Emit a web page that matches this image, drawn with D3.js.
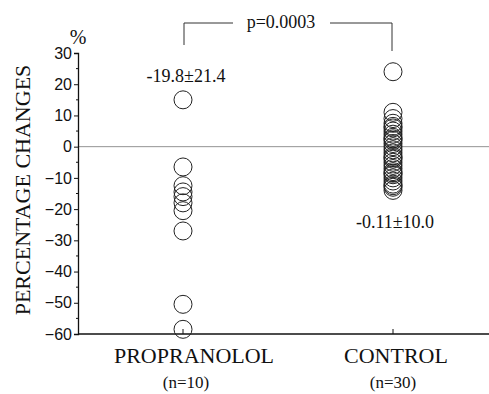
<!DOCTYPE html>
<html>
<head>
<meta charset="utf-8">
<script src="https://cdn.jsdelivr.net/npm/d3@7"></script>
<style>
  body { margin: 0; background: #fff; }
  svg { display: block; }
</style>
</head>
<body>
<div id="chart"></div>
<script>
// groups and their values (% change)
const groups = ['PROPRANOLOL', 'CONTROL'];
const groupN = ['(n=10)', '(n=30)'];
const groupStats = ['-19.8\u00b121.4', '-0.11\u00b110.0'];
const propranolol = [15, -6.5, -12.5, -14.5, -16, -18, -20.5, -27, -50.5, -58.5];
const control = [24, 11, 9, 7.5, 6, 5, 4, 3, 2, 1, 0, -1, -2, -3, -4,
  -5, -6, -7, -8, -9, -10, -11, -12, -13, -14, 6.5, 2.5, -3.5, -8.5, -12.5];
const yTicks = [30, 20, 10, 0, -10, -20, -30, -40, -50, -60];
const pLabel = 'p=0.0003';

const width = 489, height = 394;
const svg = d3.select('#chart').append('svg')
  .attr('width', width)
  .attr('height', height);

const y = d3.scaleLinear().domain([-60, 30]).range([334, 53]);
const x = d3.scalePoint().domain(groups).range([183, 393]);
const axisX = 78;

const serif = '"Liberation Serif", "Times New Roman", serif';
const narrow = '"Liberation Sans Narrow", "Arial Narrow", "Liberation Sans", sans-serif';

// zero line
svg.append('line')
  .attr('x1', axisX).attr('x2', width)
  .attr('y1', y(0)).attr('y2', y(0))
  .attr('stroke', '#777').attr('stroke-width', 0.8);

// y axis
const yAxis = svg.append('g')
  .attr('transform', `translate(${axisX},0)`)
  .call(d3.axisLeft(y).tickValues(yTicks).tickSize(4).tickPadding(2).tickFormat(d => d === 0 ? '0' : d < 0 ? '\u2212' + (-d) : d));
yAxis.select('.domain').attr('stroke', '#111').attr('stroke-width', 1.3);
yAxis.selectAll('.tick line').attr('stroke', '#111');
yAxis.selectAll('.tick text')
  .attr('font-family', narrow).attr('font-size', 16).attr('fill', '#111');

// minor ticks
svg.append('g').selectAll('line')
  .data(d3.range(-55, 30, 10))
  .join('line')
  .attr('x1', axisX - 2).attr('x2', axisX)
  .attr('y1', d => y(d)).attr('y2', d => y(d))
  .attr('stroke', '#111');

// bottom axis
svg.append('line')
  .attr('x1', axisX).attr('x2', width)
  .attr('y1', y(-60)).attr('y2', y(-60))
  .attr('stroke', '#111').attr('stroke-width', 1.3);
svg.append('g').selectAll('line')
  .data(groups)
  .join('line')
  .attr('x1', d => x(d)).attr('x2', d => x(d))
  .attr('y1', y(-60)).attr('y2', y(-60) - 5)
  .attr('stroke', '#111');

// axis labels
svg.append('text')
  .attr('transform', `translate(30,${(63 + 317) / 2}) rotate(-90)`)
  .attr('text-anchor', 'middle')
  .attr('font-family', serif).attr('font-size', 22)
  .attr('fill', '#111')
  .text('PERCENTAGE CHANGES');

svg.append('text')
  .attr('x', axisX).attr('y', 44)
  .attr('text-anchor', 'middle')
  .attr('font-family', serif).attr('font-size', 20)
  .attr('fill', '#111')
  .text('%');

svg.append('g').selectAll('text')
  .data(groups)
  .join('text')
  .attr('x', (d, i) => x(d) + (i === 0 ? 11 : 3))
  .attr('y', 363)
  .attr('text-anchor', 'middle')
  .attr('font-family', serif).attr('font-size', 22)
  .attr('fill', '#111')
  .text(d => d);

svg.append('g').selectAll('text')
  .data(groups)
  .join('text')
  .attr('x', (d, i) => x(d) + (i === 0 ? 3 : 0))
  .attr('y', 388)
  .attr('text-anchor', 'middle')
  .attr('font-family', serif).attr('font-size', 17)
  .attr('fill', '#111')
  .text((d, i) => groupN[i]);

// mean ± sd labels
svg.append('text')
  .attr('x', x('PROPRANOLOL') + 3).attr('y', 82)
  .attr('text-anchor', 'middle')
  .attr('font-family', serif).attr('font-size', 18)
  .attr('fill', '#111')
  .text(groupStats[0]);
svg.append('text')
  .attr('x', x('CONTROL') + 2).attr('y', 228)
  .attr('text-anchor', 'middle')
  .attr('font-family', serif).attr('font-size', 18)
  .attr('fill', '#111')
  .text(groupStats[1]);

// p-value bracket
const bx1 = x('PROPRANOLOL') + 1, bx2 = x('CONTROL') - 1, by = 23;
svg.append('path')
  .attr('d', `M${bx1},45 V${by} H233 M330,${by} H${bx2} V51`)
  .attr('fill', 'none')
  .attr('stroke', '#333').attr('stroke-width', 1);
svg.append('text')
  .attr('x', 281).attr('y', 28)
  .attr('text-anchor', 'middle')
  .attr('font-family', serif).attr('font-size', 18)
  .attr('fill', '#111')
  .text(pLabel);

// points
const points = [
  ...propranolol.map(v => ({ g: 'PROPRANOLOL', v })),
  ...control.map(v => ({ g: 'CONTROL', v }))
];
svg.append('g')
  .selectAll('circle')
  .data(points)
  .join('circle')
  .attr('cx', d => x(d.g))
  .attr('cy', d => y(d.v))
  .attr('r', 9)
  .attr('fill', 'none')
  .attr('stroke', '#222')
  .attr('stroke-width', 1);
</script>
</body>
</html>
